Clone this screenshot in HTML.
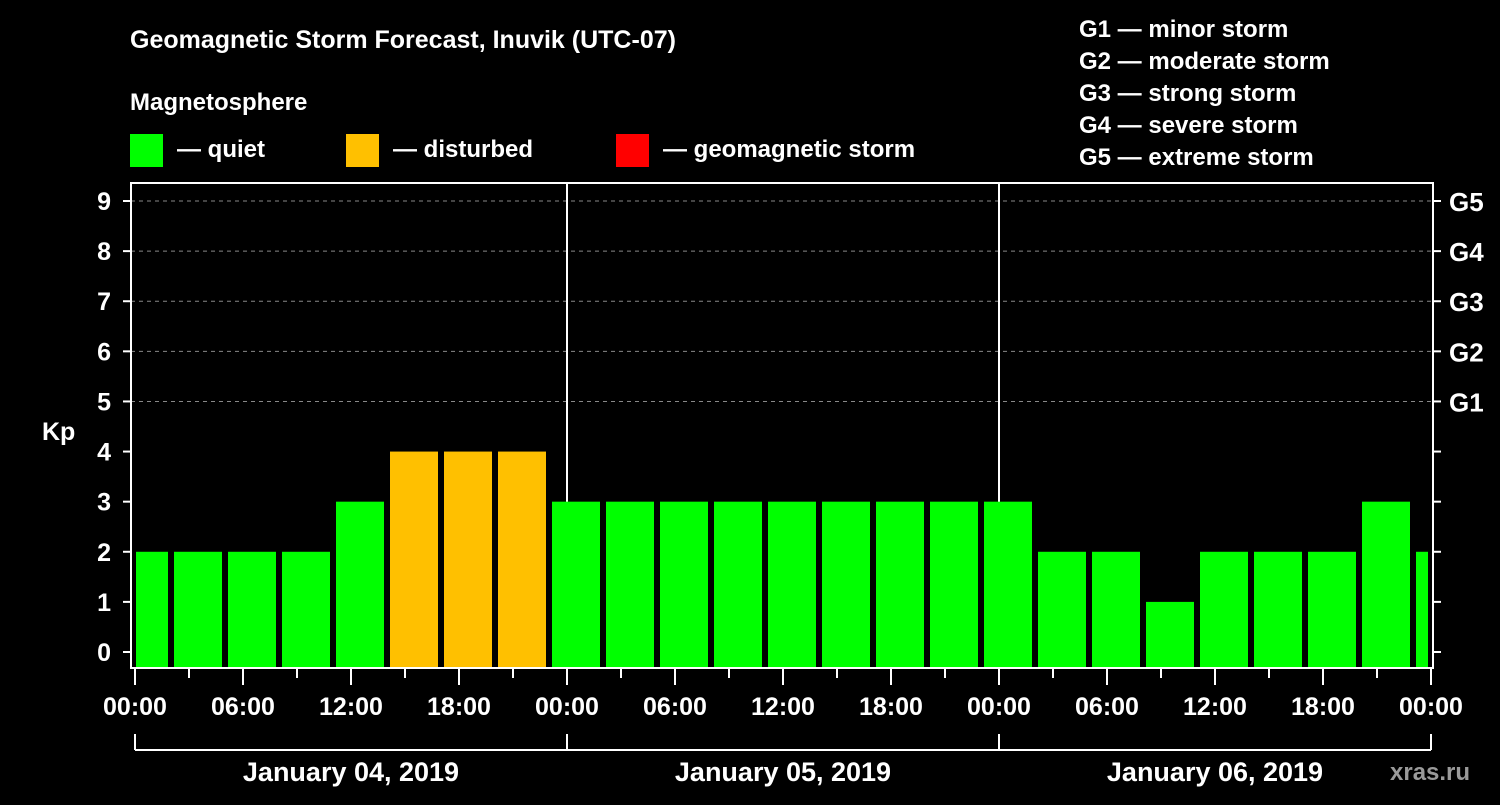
<!DOCTYPE html>
<html><head><meta charset="utf-8"><style>
body{margin:0;background:#000;width:1500px;height:800px;overflow:hidden}
svg text{font-family:"Liberation Sans",Arial,sans-serif;font-weight:bold;fill:#fff}
</style></head><body>
<svg id="chart" width="1500" height="800" xmlns="http://www.w3.org/2000/svg">
<rect width="1500" height="800" fill="#000"/>
<text x="130" y="48" font-size="25">Geomagnetic Storm Forecast, Inuvik (UTC-07)</text>
<text x="130" y="110" font-size="24">Magnetosphere</text>
<g>
<rect x="130" y="134" width="33" height="33" fill="#00ff00"/>
<text x="177" y="157" font-size="24">— quiet</text>
<rect x="346" y="134" width="33" height="33" fill="#ffc000"/>
<text x="393" y="157" font-size="24">— disturbed</text>
<rect x="616" y="134" width="33" height="33" fill="#ff0000"/>
<text x="663" y="157" font-size="24">— geomagnetic storm</text>
</g>
<g font-size="24">
<text x="1079" y="37">G1 — minor storm</text>
<text x="1079" y="69">G2 — moderate storm</text>
<text x="1079" y="101">G3 — strong storm</text>
<text x="1079" y="133">G4 — severe storm</text>
<text x="1079" y="165">G5 — extreme storm</text>
</g>
<text x="42" y="440" font-size="25">Kp</text>
<text x="1390" y="780" font-size="24" fill="#888" style="fill:#9a9a9a">xras.ru</text>
<g id="marks"></g>
<rect x="131" y="183" width="1302" height="485" fill="none" stroke="#fff" stroke-width="2"/>
</svg>
<script>
const kpValues=[2,2,2,2,3,4,4,4,3,3,3,3,3,3,3,3,3,2,2,1,2,2,2,3,2];
const yTicks=[0,1,2,3,4,5,6,7,8,9];
const gLabels=["G1","G2","G3","G4","G5"];
const gLevels=[5,6,7,8,9];
const xTickLabels=["00:00","06:00","12:00","18:00","00:00","06:00","12:00","18:00","00:00","06:00","12:00","18:00","00:00"];
const dayLabels=["January 04, 2019","January 05, 2019","January 06, 2019"];
const barStartHour=-1, barHours=3;
const NS="http://www.w3.org/2000/svg";
const g=document.getElementById('marks');
const x0=135,pxH=18,clipL=135,clipR=1428;
const X=h=>x0+h*pxH;
const Y=v=>652-v*50.11;
function el(t,a){const e=document.createElementNS(NS,t);for(const k in a)e.setAttribute(k,a[k]);g.appendChild(e);return e;}
function color(v){return v>=5?"#ff0000":v>=4?"#ffc000":"#00ff00";}
// grid
gLevels.forEach((v,i)=>{
 const l=el('line',{x1:131,x2:1433,y1:Y(v),y2:Y(v),stroke:"#888","stroke-dasharray":"4,4","stroke-width":1});
 
 
 const t=el('text',{x:1449,y:Y(v)+10,"font-size":26});t.textContent=gLabels[i];
 
 
});
// day separators
[1,2].forEach(d=>{
 const l=el('line',{x1:X(d*24),x2:X(d*24),y1:183,y2:668,stroke:"#fff","stroke-width":2});
 
 
});
// bars
kpValues.forEach((v,i)=>{
 let a=X(barStartHour+i*barHours)+3,b=a+48;
 a=Math.max(a,clipL+1);b=Math.min(b,clipR);
 const r=el('rect',{x:a,y:Y(v),width:b-a,height:667-Y(v),fill:color(v)});
 
 
});
// y ticks
yTicks.forEach(v=>{
 const t=el('line',{x1:123,x2:131,y1:Y(v),y2:Y(v),stroke:"#fff","stroke-width":2});
 
 
 const r=el('line',{x1:1433,x2:1441,y1:Y(v),y2:Y(v),stroke:"#fff","stroke-width":2});
 
 
 const tx=el('text',{x:111,y:Y(v)+9,"font-size":25,"text-anchor":"end"});tx.textContent=v;
 
 
});
// x ticks
for(let h=0;h<=72;h+=3){
 const major=h%6===0;
 const t=el('line',{x1:X(h),x2:X(h),y1:668,y2:major?685:678,stroke:"#fff","stroke-width":2});
 
 
}
xTickLabels.forEach((s,i)=>{
 const t=el('text',{x:X(i*6),y:715,"font-size":25,"text-anchor":"middle"});t.textContent=s;
 
 
});
// day brackets
const br=el('line',{x1:X(0),x2:X(72),y1:750,y2:750,stroke:"#fff","stroke-width":2});


for(let d=0;d<=3;d++){
 const t=el('line',{x1:X(d*24),x2:X(d*24),y1:734,y2:750,stroke:"#fff","stroke-width":2});
 
 
}
dayLabels.forEach((s,i)=>{
 const t=el('text',{x:X(i*24+12),y:781,"font-size":27,"text-anchor":"middle"});t.textContent=s;
 
 
});
</script>
</body></html>
